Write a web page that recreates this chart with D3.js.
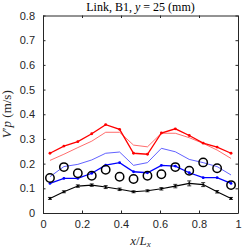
<!DOCTYPE html>
<html><head><meta charset="utf-8">
<script src="https://cdn.jsdelivr.net/npm/d3@7"></script>
<style>body{margin:0;background:#fff}svg{display:block}</style>
</head><body>
<script>
const xPos = d3.range(14).map(i => (i + 0.5) / 14);
const redThick = [0.242,0.271,0.289,0.321,0.358,0.339,0.242,0.238,0.324,0.341,0.314,0.283,0.267,0.242];
const redThin  = [0.213,0.238,0.265,0.291,0.327,0.327,0.275,0.268,0.323,0.323,0.305,0.282,0.255,0.221];
const blueThin = [0.147,0.188,0.197,0.215,0.242,0.247,0.193,0.204,0.262,0.248,0.217,0.204,0.188,0.154];
const blueThick= [0.120,0.140,0.140,0.161,0.194,0.204,0.167,0.163,0.193,0.190,0.163,0.143,0.143,0.120];
const circles  = [0.142,0.186,0.161,0.151,0.175,0.147,0.138,0.151,0.157,0.186,0.171,0.205,0.181,0.113];
const black    = [0.059,0.086,0.109,0.113,0.105,0.096,0.086,0.090,0.098,0.109,0.120,0.115,0.086,0.059];
const blackErr = [0.004,0.004,0.005,0.005,0.006,0.005,0.004,0.004,0.005,0.007,0.010,0.008,0.005,0.004];
const xTicks = [0,0.2,0.4,0.6,0.8,1];
const yTicks = [0,0.1,0.2,0.3,0.4,0.5,0.6,0.7,0.8];

const W = 243, H = 249;
const m = {l:43, r:5, t:15.5, b:36};
const svg = d3.select("body").append("svg").attr("width", W).attr("height", H);
const x = d3.scaleLinear().domain([0,1]).range([m.l, W - m.r]);
const y = d3.scaleLinear().domain([0,0.8]).range([H - m.b, m.t]);
const tc = "#262626";
const sans = "'Liberation Sans', Arial, sans-serif";
const serif = "'Liberation Serif', 'DejaVu Serif', serif";

const tl = 2.5;
svg.append("g").attr("transform", `translate(0,${y(0)})`)
  .call(d3.axisBottom(x).tickValues(xTicks).tickSizeInner(-tl).tickSizeOuter(0).tickPadding(7).tickFormat(d3.format("")))
  .call(g => { g.select(".domain").attr("stroke", tc); g.selectAll("line").attr("stroke", tc);
    g.selectAll("text").attr("fill", tc).style("font-family", sans).style("font-size","11px"); });
svg.append("g").attr("transform", `translate(0,${y(0.8)})`)
  .call(d3.axisTop(x).tickValues(xTicks).tickSizeInner(-tl).tickSizeOuter(0).tickFormat(""))
  .call(g => { g.select(".domain").attr("stroke", tc); g.selectAll("line").attr("stroke", tc); });
svg.append("g").attr("transform", `translate(${x(0)},0)`)
  .call(d3.axisLeft(y).tickValues(yTicks).tickSizeInner(-tl).tickSizeOuter(0).tickPadding(8).tickFormat(d3.format("")))
  .call(g => { g.select(".domain").attr("stroke", tc); g.selectAll("line").attr("stroke", tc);
    g.selectAll("text").attr("fill", tc).style("font-family", sans).style("font-size","11px"); });
svg.append("g").attr("transform", `translate(${x(1)},0)`)
  .call(d3.axisRight(y).tickValues(yTicks).tickSizeInner(-tl).tickSizeOuter(0).tickFormat(""))
  .call(g => { g.select(".domain").attr("stroke", tc); g.selectAll("line").attr("stroke", tc); });

const line = d3.line().x((d,i) => x(xPos[i])).y(d => y(d));
function drawLine(data, color, w) {
  svg.append("path").datum(data).attr("d", line).attr("fill","none").attr("stroke", color).attr("stroke-width", w);
}
function dots(data, color, r) {
  svg.append("g").selectAll("circle").data(data).join("circle")
    .attr("cx",(d,i)=>x(xPos[i])).attr("cy", d=>y(d)).attr("r", r).attr("fill", color);
}
drawLine(redThin, "#ff4848", 0.8);
drawLine(redThick, "#ff0000", 1.3);
dots(redThick, "#ff0000", 1.4);
drawLine(blueThin, "#3838ff", 0.8);
drawLine(blueThick, "#0000ff", 1.3);
dots(blueThick, "#0000ff", 1.4);
drawLine(black, "#000", 1.1);
dots(black, "#000", 1.1);
const eb = svg.append("g").attr("stroke","#000").attr("stroke-width",0.8);
black.forEach((v,i) => {
  const cx = x(xPos[i]);
  eb.append("line").attr("x1",cx).attr("x2",cx).attr("y1",y(v-blackErr[i])).attr("y2",y(v+blackErr[i]));
  [v-blackErr[i], v+blackErr[i]].forEach(e => eb.append("line").attr("x1",cx-2).attr("x2",cx+2).attr("y1",y(e)).attr("y2",y(e)));
});
svg.append("g").selectAll("circle").data(circles).join("circle")
  .attr("cx",(d,i)=>x(xPos[i])).attr("cy", d=>y(d)).attr("r", 4.2)
  .attr("fill","none").attr("stroke","#000").attr("stroke-width",1.5);

const title = svg.append("text").attr("x", (x(0)+x(1))/2).attr("y", 11).attr("text-anchor","middle")
  .style("font-family", serif).style("font-size","12px").attr("fill","#000");
title.append("tspan").text("Link, B1, ");
title.append("tspan").style("font-style","italic").text("y");
title.append("tspan").text(" = 25 (mm)");

const xl = svg.append("text").attr("x", (x(0)+x(1))/2).attr("y", 245).attr("text-anchor","middle")
  .style("font-family", serif).style("font-size","13px").attr("fill", tc);
xl.append("tspan").style("font-style","italic").text("x");
xl.append("tspan").text("/");
xl.append("tspan").style("font-style","italic").text("L");
xl.append("tspan").style("font-style","italic").attr("font-size","9px").attr("dy", 2).text("x");

const yl = svg.append("text").attr("transform", `translate(11,${(y(0)+y(0.8))/2}) rotate(-90)`).attr("text-anchor","middle")
  .style("font-family", serif).style("font-size","13px").attr("fill", tc);
yl.append("tspan").style("font-style","italic").text("V");
yl.append("tspan").text("′");
yl.append("tspan").style("font-style","italic").text("p");
yl.append("tspan").text(" (m/s)");
</script>
</body></html>
